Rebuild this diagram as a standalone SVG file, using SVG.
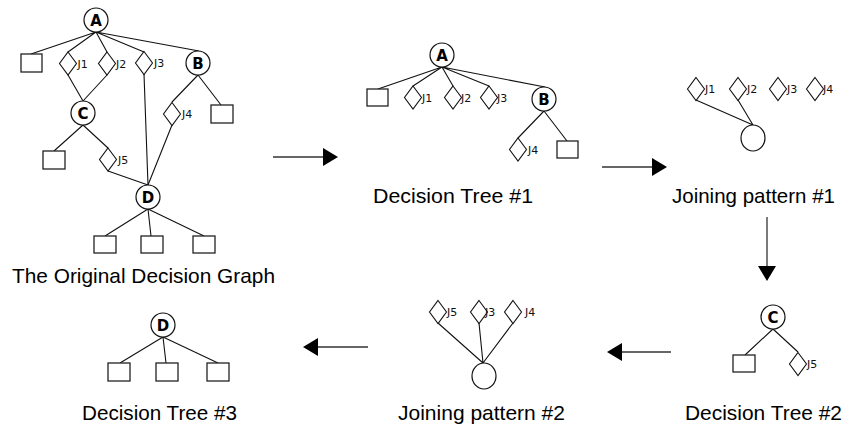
<svg xmlns="http://www.w3.org/2000/svg" xmlns:xlink="http://www.w3.org/1999/xlink" width="843" height="430" viewBox="0 0 843 430">
<style>
.ln{stroke:#111;stroke-width:1.1;fill:none}
.sq{fill:#fff;stroke:#222;stroke-width:1.3}
.cir{fill:#fff;stroke:#111;stroke-width:1.2}
.dm{fill:#fff;stroke:#111;stroke-width:1.1}
.lt{font-family:"DejaVu Sans",sans-serif;font-weight:bold;font-size:15px;fill:#000;text-anchor:middle}
.jl{font-family:"DejaVu Sans",sans-serif;font-size:11px;fill:#111}
.tt{font-family:"Liberation Sans",Arial,sans-serif;font-size:21px;fill:#000}
.ar{stroke:#333;stroke-width:1.3;fill:none}
</style>
<defs>
<path id="dia" d="M0,-11.5 L8.5,0 L0,11.5 L-8.5,0 Z"/>
<marker id="ah" viewBox="0 0 15 18" refX="0" refY="9" markerWidth="15" markerHeight="18" markerUnits="userSpaceOnUse" orient="auto">
<path d="M0,0 L15,9 L0,18 Z" fill="#000"/>
</marker>
</defs>

<!-- connectors -->
<g id="connectors">
<!-- original graph -->
<path class="ln" d="M96,32 L31,54 M96,32 L68,52 M96,32 L107,52 M96,32 L144,52 M96,32 L199,51"/>
<path class="ln" d="M68,75 L83,101 M107,75 L83,101 M144,74 L148,185"/>
<path class="ln" d="M198,75 L172,102 M198,75 L221,105 M172,125 L148,185"/>
<path class="ln" d="M83,125 L54,151 M83,125 L108,148 M108,171 L148,185"/>
<path class="ln" d="M148,209 L105,236 M148,209 L151,236 M148,209 L204,236"/>
<!-- decision tree 1 -->
<path class="ln" d="M442,67 L378,89 M442,67 L413,86 M442,67 L453,86 M442,67 L489,86 M442,67 L545,87"/>
<path class="ln" d="M544,111 L518,138 M544,111 L567,141"/>
<!-- joining pattern 1 -->
<path class="ln" d="M696,100 L753,125 M738,100 L753,125"/>
<!-- decision tree 2 -->
<path class="ln" d="M773,329 L745,355 M773,329 L798,352"/>
<!-- joining pattern 2 -->
<path class="ln" d="M438,323 L483,363 M479,323 L483,363 M513,323 L483,363"/>
<!-- decision tree 3 -->
<path class="ln" d="M163,337 L120,363 M163,337 L166,363 M163,337 L218,363"/>
<!-- process arrows -->
<path class="ar" d="M273,157 L323,157" marker-end="url(#ah)"/>
<path class="ar" d="M602,167 L652,167" marker-end="url(#ah)"/>
<path class="ar" d="M767,217 L767,266" marker-end="url(#ah)"/>
<path class="ar" d="M671,352 L622,352" marker-end="url(#ah)"/>
<path class="ar" d="M368,347 L318,347" marker-end="url(#ah)"/>
</g>

<!-- Original decision graph -->
<g id="og-A"><circle class="cir" cx="96" cy="20" r="12"/><text class="lt" x="96" y="25.5">A</text></g>
<g id="og-sq1"><rect class="sq" x="21" y="54" width="21" height="18"/></g>
<g id="og-J1"><use xlink:href="#dia" class="dm" x="68" y="63.5"/><text class="jl" x="77.5" y="67.5">J1</text></g>
<g id="og-J2"><use xlink:href="#dia" class="dm" x="107" y="63.5"/><text class="jl" x="116" y="67.5">J2</text></g>
<g id="og-J3"><use xlink:href="#dia" class="dm" x="144" y="63"/><text class="jl" x="154" y="67">J3</text></g>
<g id="og-B"><circle class="cir" cx="198" cy="63" r="12"/><text class="lt" x="198" y="68.5">B</text></g>
<g id="og-J4"><use xlink:href="#dia" class="dm" x="172" y="114"/><text class="jl" x="182" y="118">J4</text></g>
<g id="og-sq2"><rect class="sq" x="211" y="105" width="22" height="18"/></g>
<g id="og-C"><circle class="cir" cx="83" cy="113" r="12"/><text class="lt" x="83" y="118.5">C</text></g>
<g id="og-sq3"><rect class="sq" x="43" y="151" width="22" height="18"/></g>
<g id="og-J5"><use xlink:href="#dia" class="dm" x="108" y="159.5"/><text class="jl" x="118" y="163.5">J5</text></g>
<g id="og-D"><circle class="cir" cx="148" cy="197" r="12"/><text class="lt" x="148" y="202.5">D</text></g>
<g id="og-sq4"><rect class="sq" x="94" y="236" width="22" height="17"/></g>
<g id="og-sq5"><rect class="sq" x="141" y="236" width="22" height="17"/></g>
<g id="og-sq6"><rect class="sq" x="193" y="236" width="22" height="17"/></g>
<text class="tt" x="12" y="283" textLength="263" lengthAdjust="spacingAndGlyphs">The Original Decision Graph</text>

<!-- Decision Tree #1 -->
<g id="dt1-A"><circle class="cir" cx="442" cy="55" r="12"/><text class="lt" x="442" y="60.5">A</text></g>
<g id="dt1-sq1"><rect class="sq" x="367" y="89" width="21" height="17"/></g>
<g id="dt1-J1"><use xlink:href="#dia" class="dm" x="413" y="97.5"/><text class="jl" x="422" y="101.5">J1</text></g>
<g id="dt1-J2"><use xlink:href="#dia" class="dm" x="453" y="97.5"/><text class="jl" x="461" y="101.5">J2</text></g>
<g id="dt1-J3"><use xlink:href="#dia" class="dm" x="489" y="97.5"/><text class="jl" x="497" y="101.5">J3</text></g>
<g id="dt1-B"><circle class="cir" cx="544" cy="99" r="12"/><text class="lt" x="544" y="104.5">B</text></g>
<g id="dt1-J4"><use xlink:href="#dia" class="dm" x="518" y="149.5"/><text class="jl" x="528" y="153.5">J4</text></g>
<g id="dt1-sq2"><rect class="sq" x="557" y="141" width="21" height="17"/></g>
<text class="tt" x="373" y="203" textLength="160" lengthAdjust="spacingAndGlyphs">Decision Tree #1</text>

<!-- Joining pattern #1 -->
<g id="jp1-J1"><use xlink:href="#dia" class="dm" x="696" y="89"/><text class="jl" x="705" y="93">J1</text></g>
<g id="jp1-J2"><use xlink:href="#dia" class="dm" x="738" y="89"/><text class="jl" x="747" y="93">J2</text></g>
<g id="jp1-J3"><use xlink:href="#dia" class="dm" x="778" y="89"/><text class="jl" x="787" y="93">J3</text></g>
<g id="jp1-J4"><use xlink:href="#dia" class="dm" x="815" y="89"/><text class="jl" x="823" y="93">J4</text></g>
<g id="jp1-join"><ellipse class="cir" cx="753" cy="138" rx="12" ry="13"/></g>
<text class="tt" x="672" y="203" textLength="163" lengthAdjust="spacingAndGlyphs">Joining pattern #1</text>

<!-- Decision Tree #2 -->
<g id="dt2-C"><circle class="cir" cx="773" cy="317" r="12"/><text class="lt" x="773" y="322.5">C</text></g>
<g id="dt2-sq"><rect class="sq" x="733" y="355" width="22" height="17"/></g>
<g id="dt2-J5"><use xlink:href="#dia" class="dm" x="798" y="364"/><text class="jl" x="807" y="368">J5</text></g>
<text class="tt" x="685" y="420" textLength="157" lengthAdjust="spacingAndGlyphs">Decision Tree #2</text>

<!-- Joining pattern #2 -->
<g id="jp2-J5"><use xlink:href="#dia" class="dm" x="438" y="312"/><text class="jl" x="447" y="316">J5</text></g>
<g id="jp2-J3"><use xlink:href="#dia" class="dm" x="479" y="312"/><text class="jl" x="485" y="316">J3</text></g>
<g id="jp2-J4"><use xlink:href="#dia" class="dm" x="513" y="312"/><text class="jl" x="525" y="316">J4</text></g>
<g id="jp2-join"><ellipse class="cir" cx="484" cy="376" rx="12" ry="13"/></g>
<text class="tt" x="398" y="420" textLength="167" lengthAdjust="spacingAndGlyphs">Joining pattern #2</text>

<!-- Decision Tree #3 -->
<g id="dt3-D"><circle class="cir" cx="163" cy="325" r="12"/><text class="lt" x="163" y="330.5">D</text></g>
<g id="dt3-sq1"><rect class="sq" x="108" y="363" width="22" height="18"/></g>
<g id="dt3-sq2"><rect class="sq" x="156" y="363" width="22" height="18"/></g>
<g id="dt3-sq3"><rect class="sq" x="207" y="363" width="22" height="18"/></g>
<text class="tt" x="82" y="420" textLength="155" lengthAdjust="spacingAndGlyphs">Decision Tree #3</text>
</svg>
